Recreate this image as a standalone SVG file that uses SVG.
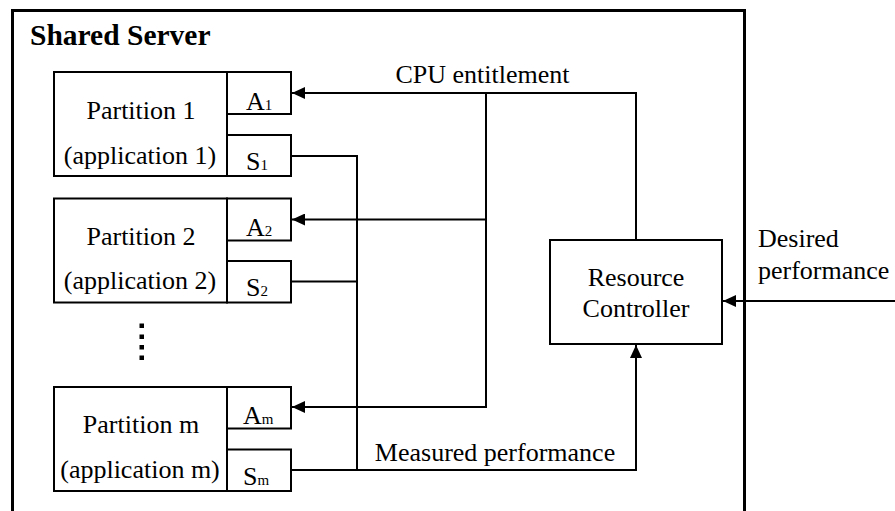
<svg xmlns="http://www.w3.org/2000/svg" width="895" height="511" viewBox="0 0 895 511">
<style>
text{font-family:"Liberation Serif","Times New Roman",serif;fill:#000}
.t{font-size:26px}
.c{text-anchor:middle}
.sub{font-size:15px}
.box{fill:#fff;stroke:#000;stroke-width:2}
.ln{fill:none;stroke:#000;stroke-width:2}
</style>
<defs>
<marker id="ah" markerUnits="userSpaceOnUse" markerWidth="14" markerHeight="12" refX="13" refY="6" orient="auto">
<path d="M0,0 L13,6 L0,12 z" fill="#000"/>
</marker>
</defs>
<rect width="895" height="511" fill="#fff"/>
<g id="server">
<path d="M12.5,520 V10.5 H744.5 V520" fill="none" stroke="#000" stroke-width="3"/>
<text x="30" y="45" style="font-size:29.5px;font-weight:bold">Shared Server</text>
</g>
<g id="partition1">
<rect class="box" x="54" y="72" width="173" height="104"/>
<rect class="box" x="227" y="72" width="64" height="42"/>
<rect class="box" x="227" y="135" width="64" height="41"/>
<text class="t c" x="141" y="119">Partition 1</text>
<text class="t c" x="140" y="164">(application 1)</text>
<text class="t" x="246" y="110">A<tspan class="sub">1</tspan></text>
<text class="t" x="246" y="170">S<tspan class="sub">1</tspan></text>
</g>
<g id="partition2">
<rect class="box" x="54" y="198.5" width="173" height="104"/>
<rect class="box" x="227" y="198.5" width="64" height="42"/>
<rect class="box" x="227" y="261" width="64" height="41.5"/>
<text class="t c" x="141" y="245">Partition 2</text>
<text class="t c" x="140" y="289">(application 2)</text>
<text class="t" x="246" y="236">A<tspan class="sub">2</tspan></text>
<text class="t" x="246" y="296">S<tspan class="sub">2</tspan></text>
</g>
<g id="dots">
<rect x="139.5" y="323.5" width="4.5" height="4.5"/>
<rect x="139.5" y="334.5" width="4.5" height="4.5"/>
<rect x="139.5" y="345" width="4.5" height="4.5"/>
<rect x="139.5" y="355.5" width="4.5" height="4.5"/>
</g>
<g id="partitionm">
<rect class="box" x="54" y="387" width="173" height="104"/>
<rect class="box" x="227" y="387" width="64" height="41.5"/>
<rect class="box" x="227" y="449.5" width="64" height="41.5"/>
<text class="t c" x="141" y="433">Partition m</text>
<text class="t c" x="140" y="478">(application m)</text>
<text class="t" x="243" y="424">A<tspan class="sub">m</tspan></text>
<text class="t" x="243" y="485">S<tspan class="sub">m</tspan></text>
</g>
<g id="controller">
<rect class="box" x="550" y="240" width="172" height="104"/>
<text class="t c" x="636" y="286">Resource</text>
<text class="t c" x="636" y="317">Controller</text>
</g>
<g id="connectors">
<path class="ln" d="M636,240 V93 H292" marker-end="url(#ah)"/>
<path class="ln" d="M486,93 V407 H292" marker-end="url(#ah)"/>
<path class="ln" d="M486,219.5 H292" marker-end="url(#ah)"/>
<path class="ln" d="M291,156 H357 V470"/>
<path class="ln" d="M291,281.5 H357"/>
<path class="ln" d="M291,470 H636 V345" marker-end="url(#ah)"/>
<path class="ln" d="M895,301 H723" marker-end="url(#ah)"/>
<text class="t c" x="482.5" y="83">CPU entitlement</text>
<text class="t c" x="495" y="461">Measured performance</text>
<text class="t" x="758" y="247">Desired</text>
<text class="t" x="758" y="279">performance</text>
</g>
</svg>
